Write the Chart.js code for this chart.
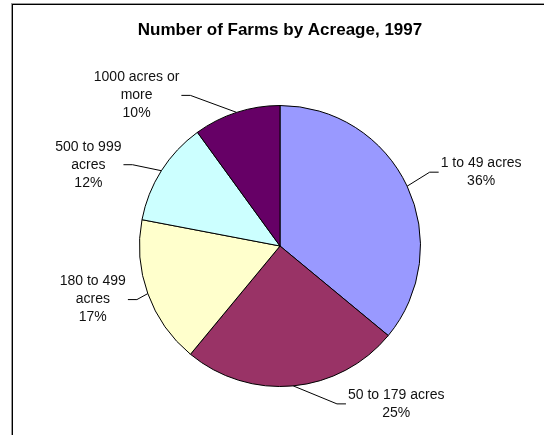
<!DOCTYPE html>
<html>
<head>
<meta charset="utf-8" />
<script src="https://cdn.jsdelivr.net/npm/chart.js@4/dist/chart.umd.min.js"></script>
<style>
  html, body { margin: 0; padding: 0; background: #fff; }
  #wrap { position: relative; width: 544px; height: 435px; overflow: hidden; }
  #frame { position: absolute; left: 12px; top: 4px; width: 600px; height: 500px;
           border-left: 1px solid #000; border-top: 1px solid #000;
           box-shadow: -1px -1px 0 #999; }
  canvas { position: absolute; left: 0; top: 0; }
</style>
</head>
<body>
<div id="wrap">
  <div id="frame"></div>
  <canvas id="chart" width="544" height="435"></canvas>
</div>
<script>
// ---- data ----
const categories = ['1 to 49 acres', '50 to 179 acres', '180 to 499 acres', '500 to 999 acres', '1000 acres or more'];
const shares = [36, 25, 17, 12, 10];
// how each category name wraps in its data label
const labelLines = [
  ['1 to 49 acres'],
  ['50 to 179 acres'],
  ['180 to 499', 'acres'],
  ['500 to 999', 'acres'],
  ['1000 acres or', 'more'],
];
const sliceColors = ['#9999FF', '#993366', '#FFFFCC', '#CCFFFF', '#660066'];
const chartTitle = 'Number of Farms by Acreage, 1997';

// label block centre, relative to the slice's mid-arc point
const labelOffsets = [[74, -14], [103, 18], [-55, 6], [-73, -6], [-100, -17]];

const FONT = '"Liberation Sans", Arial, sans-serif';

const labelPlugin = {
  id: 'excelLabels',
  afterDraw(chart) {
    const ctx = chart.ctx;
    const meta = chart.getDatasetMeta(0);
    ctx.save();

    // title
    ctx.fillStyle = '#000';
    ctx.font = `bold 17px ${FONT}`;
    ctx.textAlign = 'center';
    ctx.textBaseline = 'middle';
    ctx.fillText(chartTitle, 280, 30);

    ctx.font = `14px ${FONT}`;
    const lineH = 18;
    meta.data.forEach((arc, i) => {
      const { x, y, startAngle, endAngle, outerRadius } = arc.getProps(['x', 'y', 'startAngle', 'endAngle', 'outerRadius'], true);
      const mid = (startAngle + endAngle) / 2;
      const ax = x + Math.cos(mid) * outerRadius;
      const ay = y + Math.sin(mid) * outerRadius;
      const lines = [...labelLines[i], `${shares[i]}%`];
      const cx = ax + labelOffsets[i][0];
      const cy = ay + labelOffsets[i][1];
      const w = Math.max(...lines.map((l) => ctx.measureText(l).width));
      const rightSide = cx > ax;
      const edge = rightSide ? cx - w / 2 - 2 : cx + w / 2 + 2;
      const elbow = rightSide ? edge - 9 : edge + 9;

      // leader line
      ctx.strokeStyle = '#000';
      ctx.lineWidth = 1;
      ctx.beginPath();
      ctx.moveTo(ax, ay);
      ctx.lineTo(elbow, cy);
      ctx.lineTo(edge, cy);
      ctx.stroke();

      // text
      ctx.fillStyle = '#111';
      const top = cy - ((lines.length - 1) * lineH) / 2;
      lines.forEach((l, k) => ctx.fillText(l, cx, top + k * lineH));
    });
    ctx.restore();
  },
};

new Chart(document.getElementById('chart'), {
  type: 'pie',
  data: {
    labels: categories,
    datasets: [
      {
        data: shares,
        backgroundColor: sliceColors,
        borderColor: '#000',
        borderWidth: 1,
        borderAlign: 'center',
      },
    ],
  },
  options: {
    responsive: false,
    animation: false,
    layout: { padding: { left: 139, right: 123, top: 105, bottom: 48 } },
    plugins: {
      legend: { display: false },
      title: { display: false },
      tooltip: { enabled: false },
    },
  },
  plugins: [labelPlugin],
});
</script>
</body>
</html>
